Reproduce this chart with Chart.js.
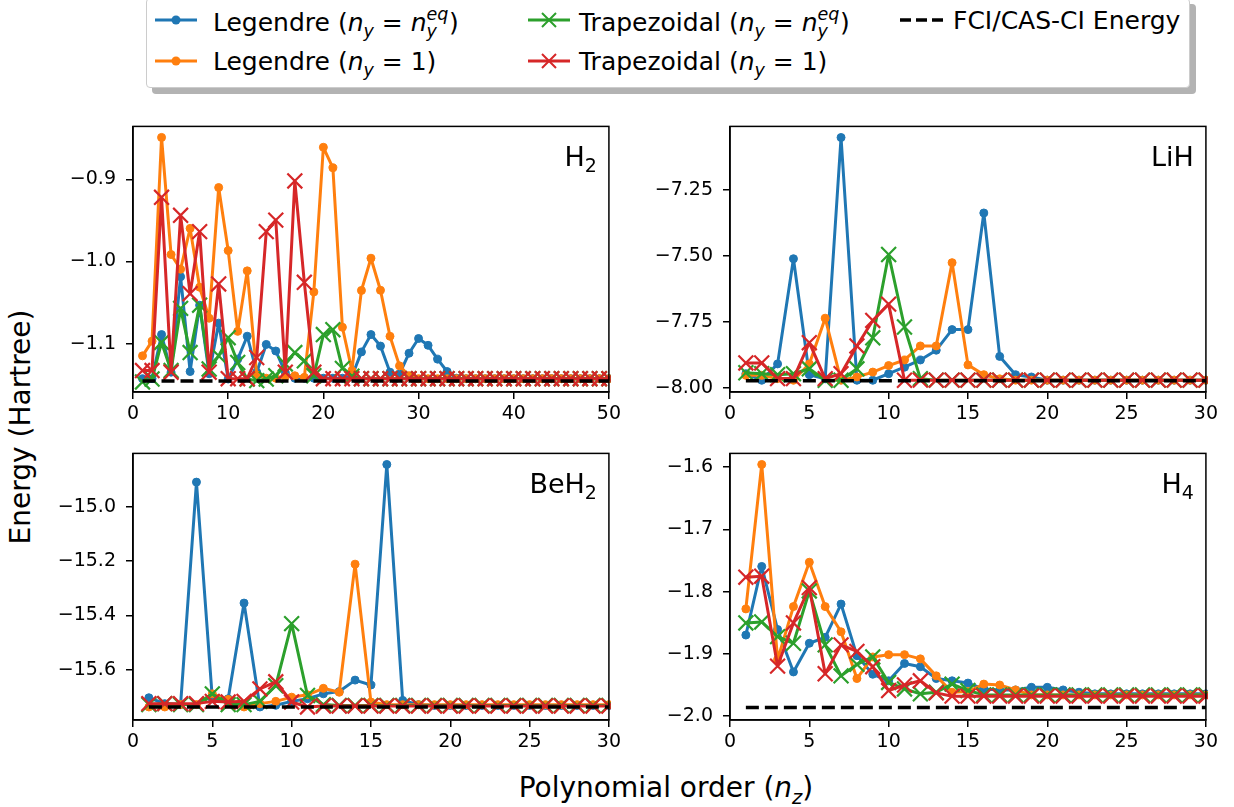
<!DOCTYPE html>
<html>
<head>
<meta charset="utf-8">
<script src="https://cdn.jsdelivr.net/npm/chart.js@4.4.0/dist/chart.umd.min.js"></script>
<style>
  body { margin: 0; background: #fff; font-family: "DejaVu Sans", sans-serif; }
  #fig { position: relative; width: 1234px; height: 807px; overflow: hidden; background: #fff; }
  canvas { position: absolute; }
  #legend { position: absolute; left: 146px; top: -2px; width: 1044px; height: 90px; box-sizing: border-box;
            border: 1px solid #cccccc; border-radius: 4px; background: #fff; box-shadow: 6px 6px 0 #b3b3b3; z-index: 5; }
  .hd { position: absolute; z-index: 6; }
  .lg { position: absolute; z-index: 6; font-size: 25px; white-space: nowrap; line-height: 1; transform: translateY(-50%); }
  .sb { font-size: 0.7em; font-style: italic; position: relative; top: 0.35em; }
  .ss { display: inline-block; position: relative; width: 0.9em; height: 1em; font-style: italic; }
  .ss .up { position: absolute; left: 0; bottom: 0.45em; font-size: 0.7em; line-height: 1; }
  .ss .dn { position: absolute; left: 0; bottom: -0.55em; font-size: 0.7em; line-height: 1; }
  #ylabel { position: absolute; left: 20px; top: 427px; font-size: 28px; white-space: nowrap;
            transform: translate(-50%, -50%) rotate(-90deg); }
  #xlabel { position: absolute; left: 666px; top: 787px; font-size: 28px; white-space: nowrap;
            transform: translate(-50%, -50%); }
</style>
</head>
<body>
<div id="fig">
  <div id="legend"></div>
  <svg class="hd" style="left:155px;top:8px" width="44" height="24">
    <line x1="0" y1="12" x2="42" y2="12" stroke="#1f77b4" stroke-width="3"/><circle cx="21" cy="12" r="4.5" fill="#1f77b4"/></svg>
  <div class="lg" style="left:213px;top:20px">Legendre (<i>n</i><span class="sb">y</span> = <i>n</i><span class="ss"><span class="up">eq</span><span class="dn">y</span></span>)</div>
  <svg class="hd" style="left:155px;top:49px" width="44" height="24">
    <line x1="0" y1="12" x2="42" y2="12" stroke="#ff7f0e" stroke-width="3"/><circle cx="21" cy="12" r="4.5" fill="#ff7f0e"/></svg>
  <div class="lg" style="left:213px;top:61px">Legendre (<i>n</i><span class="sb">y</span> = 1)</div>
  <svg class="hd" style="left:528px;top:8px" width="44" height="24">
    <line x1="0" y1="12" x2="42" y2="12" stroke="#2ca02c" stroke-width="3"/>
    <path d="M14 5 L28 19 M28 5 L14 19" stroke="#2ca02c" stroke-width="2"/></svg>
  <div class="lg" style="left:579px;top:20px">Trapezoidal (<i>n</i><span class="sb">y</span> = <i>n</i><span class="ss"><span class="up">eq</span><span class="dn">y</span></span>)</div>
  <svg class="hd" style="left:528px;top:49px" width="44" height="24">
    <line x1="0" y1="12" x2="42" y2="12" stroke="#d62728" stroke-width="3"/>
    <path d="M14 5 L28 19 M28 5 L14 19" stroke="#d62728" stroke-width="2"/></svg>
  <div class="lg" style="left:579px;top:61px">Trapezoidal (<i>n</i><span class="sb">y</span> = 1)</div>
  <svg class="hd" style="left:900px;top:8px" width="44" height="24">
    <line x1="0" y1="12" x2="43" y2="12" stroke="#000" stroke-width="3.5" stroke-dasharray="11 5"/></svg>
  <div class="lg" style="left:953px;top:20px">FCI/CAS-CI Energy</div>

  <canvas id="cH2"></canvas>
  <canvas id="cLiH"></canvas>
  <canvas id="cBeH2"></canvas>
  <canvas id="cH4"></canvas>

  <div id="ylabel">Energy (Hartree)</div>
  <div id="xlabel">Polynomial order (<i>n</i><span class="sb">z</span>)</div>
</div>
<script>
// polynomial orders
var nzH2 = [1,2,3,4,5,6,7,8,9,10,11,12,13,14,15,16,17,18,19,20,21,22,23,24,25,
            26,27,28,29,30,31,32,33,34,35,36,37,38,39,40,41,42,43,44,45,46,47,48,49,50];
var nzMol = [1,2,3,4,5,6,7,8,9,10,11,12,13,14,15,16,17,18,19,20,21,22,23,24,25,26,27,28,29,30];

// tick labels
var xTicksH2 = [0, 10, 20, 30, 40, 50];
var xTicksMol = [0, 5, 10, 15, 20, 25, 30];
var yTicksH2 = [-0.9, -1.0, -1.1];
var yTicksLiH = [-7.25, -7.50, -7.75, -8.00];
var yTicksBeH2 = [-15.0, -15.2, -15.4, -15.6];
var yTicksH4 = [-1.6, -1.7, -1.8, -1.9, -2.0];

// H2
var h2LegEq = [-1.1426, -1.1426, -1.0889, -1.1347, -1.0185, -1.1339, -1.0532, -1.1366, -1.0750, -1.1430,
               -1.1188, -1.0909, -1.1347, -1.1009, -1.1089, -1.1350, -1.1420, -1.1420, -1.1420, -1.1420,
               -1.1420, -1.1420, -1.1400, -1.1100, -1.0889, -1.1029, -1.1347, -1.1370, -1.1116, -1.0937,
               -1.1020, -1.1188, -1.1339, -1.1420, -1.1426, -1.1426, -1.1426, -1.1426, -1.1426, -1.1426,
               -1.1426, -1.1426, -1.1426, -1.1426, -1.1426, -1.1426, -1.1426, -1.1426, -1.1426, -1.1426];
var h2Leg1 = [-1.1148, -1.0969, -0.8490, -0.9915, -1.0094, -0.9597, -1.0313, -1.0690, -0.9100, -0.9867,
              -1.0850, -1.0114, -1.1380, -1.1420, -1.1420, -1.1400, -1.1390, -1.1410, -1.0370, -0.8610,
              -0.8860, -1.0800, -1.1327, -1.0352, -0.9960, -1.0350, -1.0910, -1.1270, -1.1390, -1.1426,
              -1.1426, -1.1426, -1.1426, -1.1426, -1.1426, -1.1426, -1.1426, -1.1426, -1.1426, -1.1426,
              -1.1426, -1.1426, -1.1426, -1.1426, -1.1426, -1.1426, -1.1426, -1.1426, -1.1426, -1.1426];
var h2TrapEq = [-1.1466, -1.1430, -1.0985, -1.1327, -1.0570, -1.1108, -1.0532, -1.1308, -1.1148, -1.0927,
                -1.1229, -1.1430, -1.1450, -1.1430, -1.1390, -1.1247, -1.1108, -1.1208, -1.1390, -1.0889,
                -1.0830, -1.1300, -1.1396, -1.1426, -1.1426, -1.1426, -1.1426, -1.1426, -1.1426, -1.1426,
                -1.1426, -1.1426, -1.1426, -1.1426, -1.1426, -1.1426, -1.1426, -1.1426, -1.1426, -1.1426,
                -1.1426, -1.1426, -1.1426, -1.1426, -1.1426, -1.1426, -1.1426, -1.1426, -1.1426, -1.1426];
var h2Trap1 = [-1.1327, -1.1327, -0.9219, -1.1347, -0.9438, -1.0392, -0.9636, -1.1347, -1.0273, -1.1426,
               -1.1426, -1.1426, -1.1168, -0.9636, -0.9497, -1.1347, -0.9020, -1.0253, -1.1347, -1.1426,
               -1.1426, -1.1426, -1.1426, -1.1426, -1.1426, -1.1426, -1.1426, -1.1426, -1.1426, -1.1426,
               -1.1426, -1.1426, -1.1426, -1.1426, -1.1426, -1.1426, -1.1426, -1.1426, -1.1426, -1.1426,
               -1.1426, -1.1426, -1.1426, -1.1426, -1.1426, -1.1426, -1.1426, -1.1426, -1.1426, -1.1426];
var h2Fci = -1.1453;

// LiH
var lihLegEq = [-7.9456, -7.9704, -7.9085, -7.5100, -7.9493, -7.9650, -7.0507, -7.9704, -7.9704, -7.9456,
                -7.9210, -7.8936, -7.8565, -7.7785, -7.7785, -7.3366, -7.8800, -7.9493, -7.9580, -7.9700,
                -7.9700, -7.9700, -7.9700, -7.9700, -7.9700, -7.9700, -7.9700, -7.9700, -7.9700, -7.9700];
var lihLeg1 = [-7.9518, -7.9518, -7.9642, -7.9704, -7.9085, -7.7352, -7.9704, -7.9580, -7.9394, -7.9147,
               -7.8936, -7.8404, -7.8404, -7.5248, -7.9122, -7.9493, -7.9650, -7.9700, -7.9700, -7.9700,
               -7.9700, -7.9700, -7.9700, -7.9700, -7.9700, -7.9700, -7.9700, -7.9700, -7.9700, -7.9700];
var lihTrapEq = [-7.9419, -7.9456, -7.9493, -7.9456, -7.9270, -7.9704, -7.9704, -7.9270, -7.8095, -7.4939,
                 -7.7687, -7.9642, -7.9700, -7.9700, -7.9700, -7.9700, -7.9700, -7.9700, -7.9700, -7.9700,
                 -7.9700, -7.9700, -7.9700, -7.9700, -7.9700, -7.9700, -7.9700, -7.9700, -7.9700, -7.9700];
var lihTrap1 = [-7.9048, -7.9048, -7.9642, -7.9642, -7.8281, -7.9642, -7.9456, -7.8404, -7.7439, -7.6820,
                -7.9704, -7.9700, -7.9700, -7.9700, -7.9700, -7.9700, -7.9700, -7.9700, -7.9700, -7.9700,
                -7.9700, -7.9700, -7.9700, -7.9700, -7.9700, -7.9700, -7.9700, -7.9700, -7.9700, -7.9700];
var lihFci = -7.9720;

// BeH2
var beh2LegEq = [-15.7027, -15.7243, -15.7279, -14.9099, -15.7063, -15.7063, -15.3546, -15.7366, -15.7305, -15.7160,
                 -15.7063, -15.6883, -15.6800, -15.6378, -15.6559, -14.8450, -15.7124, -15.7280, -15.7310, -15.7310,
                 -15.7310, -15.7310, -15.7310, -15.7310, -15.7310, -15.7310, -15.7310, -15.7310, -15.7310, -15.7310];
var beh2Leg1 = [-15.7366, -15.7366, -15.7279, -15.7279, -15.6883, -15.7088, -15.7366, -15.7243, -15.7160, -15.7005,
                -15.6919, -15.6680, -15.6825, -15.2115, -15.7185, -15.7280, -15.7280, -15.7280, -15.7280, -15.7280,
                -15.7280, -15.7280, -15.7280, -15.7280, -15.7280, -15.7280, -15.7280, -15.7280, -15.7280, -15.7280];
var beh2TrapEq = [-15.7279, -15.7243, -15.7279, -15.7279, -15.6883, -15.7279, -15.7279, -15.7160, -15.6584, -15.4303,
                  -15.6944, -15.7279, -15.7310, -15.7310, -15.7310, -15.7310, -15.7310, -15.7310, -15.7310, -15.7310,
                  -15.7310, -15.7310, -15.7310, -15.7310, -15.7310, -15.7310, -15.7310, -15.7310, -15.7310, -15.7310];
var beh2Trap1 = [-15.7243, -15.7243, -15.7243, -15.7243, -15.7160, -15.7185, -15.7160, -15.6703, -15.6440, -15.7185,
                 -15.7366, -15.7330, -15.7330, -15.7330, -15.7330, -15.7330, -15.7330, -15.7330, -15.7330, -15.7330,
                 -15.7330, -15.7330, -15.7330, -15.7330, -15.7330, -15.7330, -15.7330, -15.7330, -15.7330, -15.7330];
var beh2Fci = -15.7366;

// H4
var h4LegEq = [-1.8698, -1.7596, -1.8609, -1.9291, -1.8830, -1.8735, -1.8200, -1.9029, -1.9328, -1.9433,
               -1.9155, -1.9207, -1.9397, -1.9433, -1.9470, -1.9564, -1.9580, -1.9580, -1.9538, -1.9538,
               -1.9580, -1.9617, -1.9643, -1.9643, -1.9643, -1.9643, -1.9643, -1.9643, -1.9643, -1.9643];
var h4Leg1 = [-1.8278, -1.5958, -1.9092, -1.8241, -1.7528, -1.8241, -1.8646, -1.9397, -1.9050, -1.9013,
              -1.9013, -1.9081, -1.9354, -1.9617, -1.9606, -1.9486, -1.9501, -1.9580, -1.9660, -1.9660,
              -1.9660, -1.9660, -1.9660, -1.9660, -1.9660, -1.9660, -1.9660, -1.9660, -1.9660, -1.9660];
var h4TrapEq = [-1.8504, -1.8488, -1.8724, -1.8830, -1.7990, -1.8856, -1.9354, -1.9170, -1.9050, -1.9460,
                -1.9564, -1.9643, -1.9617, -1.9486, -1.9590, -1.9660, -1.9660, -1.9660, -1.9660, -1.9660,
                -1.9660, -1.9660, -1.9660, -1.9660, -1.9660, -1.9660, -1.9660, -1.9660, -1.9660, -1.9660];
var h4Trap1 = [-1.7769, -1.7753, -1.9197, -1.8504, -1.7937, -1.9320, -1.8856, -1.8961, -1.9207, -1.9590,
               -1.9501, -1.9433, -1.9627, -1.9680, -1.9680, -1.9680, -1.9680, -1.9680, -1.9680, -1.9680,
               -1.9680, -1.9680, -1.9680, -1.9680, -1.9680, -1.9680, -1.9680, -1.9680, -1.9680, -1.9680];
var h4Fci = -1.9863;

var BLUE = '#1f77b4', ORANGE = '#ff7f0e', GREEN = '#2ca02c', RED = '#d62728';
var FONT = "'DejaVu Sans', sans-serif";
var YAXIS_W = 90, XAXIS_H = 40, PAD = 16;

function pts(xs, ys) {
  return xs.map(function(x, i) { return { x: x, y: ys[i] }; });
}

function legendreSet(xs, ys, color, order) {
  return {
    data: pts(xs, ys), borderColor: color, backgroundColor: color, borderWidth: 3,
    pointStyle: 'circle', pointRadius: 4, pointBorderWidth: 1, pointBackgroundColor: color, pointBorderColor: color,
    borderJoinStyle: 'round', order: order, clip: 2
  };
}

function trapSet(xs, ys, color, order) {
  return {
    data: pts(xs, ys), borderColor: color, backgroundColor: color, borderWidth: 3,
    pointStyle: 'crossRot', pointRadius: 10.5, pointBorderWidth: 2.2, pointBorderColor: color,
    borderJoinStyle: 'round', order: order, clip: 2
  };
}

function fciSet(xs, value) {
  return {
    data: [{ x: xs[0], y: value }, { x: xs[xs.length - 1], y: value }],
    borderColor: '#000', borderWidth: 3.5, borderDash: [13, 6], pointRadius: 0, order: 0, clip: 2
  };
}

// frame round the axes and the molecule name in the top right corner
var panelDeco = {
  id: 'panelDeco',
  afterDraw: function(chart, args, opts) {
    var ctx = chart.ctx, a = chart.chartArea;
    ctx.save();
    ctx.strokeStyle = '#000';
    ctx.lineWidth = 1.5;
    ctx.strokeRect(a.left, a.top, a.right - a.left, a.bottom - a.top);
    ctx.fillStyle = '#000';
    ctx.textBaseline = 'alphabetic';
    ctx.font = '27px ' + FONT;
    var mainW = ctx.measureText(opts.main).width;
    var subW = 0;
    if (opts.sub) {
      ctx.font = '19px ' + FONT;
      subW = ctx.measureText(opts.sub).width;
    }
    var x = a.right - 12 - mainW - subW;
    var y = a.top + 40;
    ctx.font = '27px ' + FONT;
    ctx.fillText(opts.main, x, y);
    if (opts.sub) {
      ctx.font = '19px ' + FONT;
      ctx.fillText(opts.sub, x + mainW, y + 6);
    }
    ctx.restore();
  }
};

function fmt(v, dec) {
  return v.toFixed(dec).replace('-', '\u2212');
}

function makePanel(id, area, xs, xTicks, yTicks, yMin, yMax, dec, series, fci, title) {
  var cv = document.getElementById(id);
  var w = area[2] - area[0] + YAXIS_W + PAD;
  var h = area[3] - area[1] + PAD + XAXIS_H;
  cv.width = w; cv.height = h;
  cv.style.left = (area[0] - YAXIS_W) + 'px';
  cv.style.top = (area[1] - PAD) + 'px';
  cv.style.width = w + 'px';
  cv.style.height = h + 'px';

  var tickFont = { family: FONT, size: 19 };
  new Chart(cv.getContext('2d'), {
    type: 'line',
    data: {
      datasets: [
        fciSet(xs, fci),
        trapSet(xs, series[3], RED, 1),
        trapSet(xs, series[2], GREEN, 2),
        legendreSet(xs, series[1], ORANGE, 3),
        legendreSet(xs, series[0], BLUE, 4)
      ]
    },
    options: {
      responsive: false,
      animation: false,
      devicePixelRatio: 1,
      layout: { padding: { top: PAD, right: PAD, left: 0, bottom: 0 } },
      plugins: { legend: { display: false }, tooltip: { enabled: false }, panelDeco: title },
      scales: {
        x: {
          type: 'linear', min: xTicks[0], max: xTicks[xTicks.length - 1],
          afterBuildTicks: function(s) { s.ticks = xTicks.map(function(v) { return { value: v }; }); },
          afterFit: function(s) { s.height = XAXIS_H; },
          grid: { drawOnChartArea: false, drawTicks: true, tickLength: 7, color: '#000', lineWidth: 1.5 },
          border: { display: true, color: '#000', width: 1.5 },
          ticks: { color: '#000', font: tickFont, padding: 4, autoSkip: false, maxRotation: 0,
                   callback: function(v) { return String(v); } }
        },
        y: {
          type: 'linear', min: yMin, max: yMax,
          afterBuildTicks: function(s) { s.ticks = yTicks.map(function(v) { return { value: v }; }); },
          afterFit: function(s) { s.width = YAXIS_W; },
          grid: { drawOnChartArea: false, drawTicks: true, tickLength: 7, color: '#000', lineWidth: 1.5 },
          border: { display: true, color: '#000', width: 1.5 },
          ticks: { color: '#000', font: tickFont, padding: 10, autoSkip: false,
                   callback: function(v) { return fmt(v, dec); } }
        }
      }
    },
    plugins: [panelDeco]
  });
}

makePanel('cH2', [133, 121, 609, 392], nzH2, xTicksH2, yTicksH2, -1.1588, -0.8356, 1,
          [h2LegEq, h2Leg1, h2TrapEq, h2Trap1], h2Fci, { main: 'H', sub: '2' });
makePanel('cLiH', [730, 121, 1206, 392], nzMol, xTicksMol, yTicksLiH, -8.0149, -7.0086, 2,
          [lihLegEq, lihLeg1, lihTrapEq, lihTrap1], lihFci, { main: 'LiH', sub: '' });
makePanel('cBeH2', [133, 448, 609, 720], nzMol, xTicksMol, yTicksBeH2, -15.7845, -14.8043, 1,
          [beh2LegEq, beh2Leg1, beh2TrapEq, beh2Trap1], beh2Fci, { main: 'BeH', sub: '2' });
makePanel('cH4', [730, 448, 1206, 720], nzMol, xTicksMol, yTicksH4, -2.0063, -1.5780, 1,
          [h4LegEq, h4Leg1, h4TrapEq, h4Trap1], h4Fci, { main: 'H', sub: '4' });
</script>
</body>
</html>
